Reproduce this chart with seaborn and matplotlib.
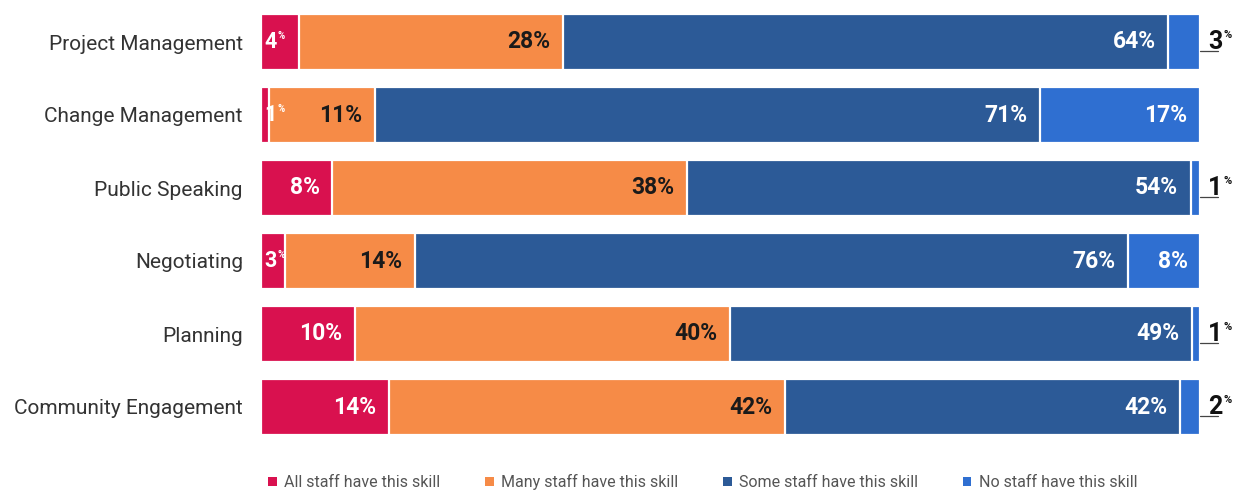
import matplotlib
matplotlib.use("Agg")
import matplotlib.pyplot as plt
from matplotlib.patches import Patch
from matplotlib import font_manager
import seaborn as sns
import pandas as pd

# Survey data: share of organisations by staff skill coverage (percent, unrounded)
skills = ["Project Management", "Change Management", "Public Speaking",
          "Negotiating", "Planning", "Community Engagement"]
all_staff = [4.0, 0.8, 7.6, 2.6, 10.0, 13.6]
many_staff = [28.2, 11.3, 37.8, 13.8, 39.9, 42.2]
some_staff = [64.4, 70.9, 53.6, 75.9, 49.2, 42.1]
no_staff = [3.4, 17.0, 1.0, 7.7, 0.9, 2.1]

series_names = ["All staff have this skill", "Many staff have this skill",
                "Some staff have this skill", "No staff have this skill"]
colors = ["#D9114F", "#F68B47", "#2C5A97", "#2F6FD1"]
label_colors = ["white", "#1a1a1a", "white", "white"]

sns.set_theme(style="white")
plt.rcParams["font.family"] = ["Roboto", "DejaVu Sans"]

installed = {f.name for f in font_manager.fontManager.ttflist}
legend_family = "Liberation Sans Narrow" if "Liberation Sans Narrow" in installed else "Roboto"

series = [all_staff, many_staff, some_staff, no_staff]
df = pd.DataFrame({"skill": skills})
for name, vals in zip(series_names, series):
    df[name] = vals
cum = df[series_names].cumsum(axis=1)
cum["skill"] = skills

fig = plt.figure(figsize=(12.33, 4.91), dpi=100)
ax = fig.add_axes([261 / 1233, 1 - 443.5 / 491, 939 / 1233, 438 / 491])

# stacked bars: draw cumulative totals from the widest layer down
for i in reversed(range(4)):
    sns.barplot(data=cum, x=series_names[i], y="skill",
                orient="h", color=colors[i], saturation=1, width=0.78,
                edgecolor="white", linewidth=1.6, ax=ax)

ax.set_xlim(0, 100)
ax.set_ylim(5.5, -0.5)
ax.set_xlabel("")
ax.set_ylabel("")
ax.set_xticks([])
sns.despine(ax=ax, left=True, bottom=True)
ax.tick_params(axis="y", length=0, pad=13, labelsize=15, labelcolor="#333333")

for row in range(len(skills)):
    for i, vals in enumerate(series):
        v = vals[row]
        txt = f"{v:.0f}"
        right = cum.iloc[row, i]
        left = right - v
        if i == 3 and v < 3.5:
            # tiny end segment: value sits outside with a leader line
            num = ax.annotate(txt, xy=(right, row), xytext=(6, 0),
                              textcoords="offset points", ha="left", va="center",
                              fontsize=18, fontweight="bold", color="#111111",
                              annotation_clip=False)
            ax.annotate("%", xy=(1.04, 1.0), xycoords=num, ha="left", va="top",
                        fontsize=8, fontweight="bold", color="#111111")
            ax.plot([right, right + 1.9], [row + 0.13, row + 0.13],
                    color="#444444", lw=0.9, clip_on=False)
        elif v < 5:
            num = ax.annotate(txt, xy=(left, row), xytext=(2.5, 0),
                              textcoords="offset points", ha="left", va="center",
                              fontsize=15.5, fontweight="bold", color=label_colors[i],
                              annotation_clip=False)
            ax.annotate("%", xy=(1.04, 1.0), xycoords=num, ha="left", va="top",
                        fontsize=7, fontweight="bold", color=label_colors[i])
        else:
            ax.annotate(f"{txt}%", xy=(right, row), xytext=(-9, 0),
                        textcoords="offset points", ha="right", va="center",
                        fontsize=16.5, fontweight="bold", color=label_colors[i],
                        annotation_clip=False)

handles = [Patch(facecolor=c, edgecolor="none") for c in colors]
fig.legend(handles, series_names, loc="center left",
           bbox_to_anchor=(254 / 1233, 1 - 482 / 491), ncol=4, frameon=False,
           handlelength=0.55, handleheight=0.55, handletextpad=0.45,
           columnspacing=2.8, labelcolor="#555555",
           prop={"family": legend_family, "size": 11.5})

fig.savefig("out.png", dpi=100, facecolor="white")
